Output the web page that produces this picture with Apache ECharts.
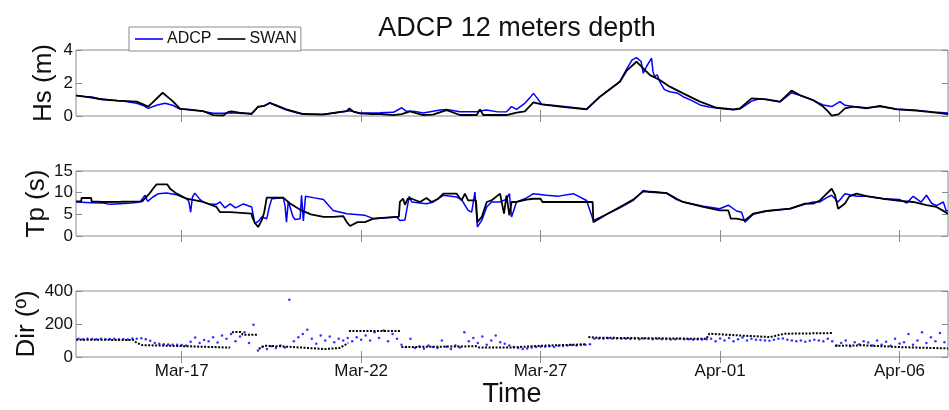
<!DOCTYPE html>
<html><head><meta charset="utf-8">
<script src="https://cdn.jsdelivr.net/npm/echarts@6/dist/echarts.min.js"></script>
<style>html,body{margin:0;padding:0;background:#fff}#c{width:949px;height:410px}</style>
</head><body><div id="c"></div>
<script>
// Time in days since Mar-14 00:00
const tickDays = [3, 8, 13, 18, 23];
const tickLabels = ['Mar-17', 'Mar-22', 'Mar-27', 'Apr-01', 'Apr-06'];

const hsSwan = [[0.06,1.23],[0.4,1.15],[0.8,1.0],[1.2,0.93],[1.75,0.87],[2.07,0.57],[2.47,1.41],[2.75,0.9],[2.95,0.45],[3.3,0.35],[3.6,0.3],[3.88,0.05],[4.16,0.03],[4.3,0.25],[4.39,0.28],[4.6,0.2],[4.95,0.12],[5.13,0.57],[5.3,0.62],[5.46,0.8],[5.92,0.4],[6.39,0.12],[6.94,0.08],[7.32,0.22],[7.6,0.3],[7.67,0.46],[7.8,0.25],[7.97,0.16],[8.3,0.12],[8.53,0.12],[8.9,0.05],[9.13,0.12],[9.36,0.28],[9.73,0.06],[10.0,0.08],[10.38,0.36],[10.75,0.06],[11.22,0.06],[11.31,0.4],[11.4,0.06],[12.05,0.06],[12.33,0.2],[12.56,0.28],[12.8,0.83],[13.03,0.71],[13.54,0.57],[14.28,0.4],[14.65,1.17],[15.21,2.08],[15.4,2.75],[15.67,3.29],[15.86,2.89],[16.05,2.48],[16.32,2.18],[16.6,1.78],[16.97,1.37],[17.44,0.87],[17.9,0.5],[18.37,0.4],[18.55,0.46],[18.88,1.07],[19.29,1.01],[19.67,0.87],[19.99,1.54],[20.22,1.27],[20.59,0.97],[20.87,0.57],[21.0,0.3],[21.11,0.02],[21.3,0.1],[21.48,0.46],[21.71,0.57],[22.08,0.46],[22.45,0.61],[22.92,0.4],[23.47,0.32],[23.94,0.22],[24.35,0.12]];

const hsAdcp = [[0.06,1.25],[0.3,1.18],[0.5,1.15],[0.7,1.05],[0.9,1.0],[1.1,0.95],[1.4,0.9],[1.75,0.77],[1.95,0.62],[2.07,0.46],[2.3,0.65],[2.535,0.77],[2.75,0.65],[2.95,0.42],[3.3,0.38],[3.6,0.28],[3.88,0.16],[4.16,0.16],[4.39,0.2],[4.7,0.15],[4.95,0.16],[5.13,0.55],[5.3,0.6],[5.46,0.78],[5.7,0.55],[5.92,0.36],[6.2,0.2],[6.39,0.1],[6.94,0.1],[7.32,0.2],[7.67,0.32],[7.97,0.18],[8.53,0.2],[8.9,0.22],[9.13,0.5],[9.25,0.3],[9.5,0.28],[9.73,0.18],[10.2,0.36],[10.38,0.4],[10.75,0.26],[11.22,0.26],[11.31,0.3],[11.5,0.36],[11.8,0.25],[12.05,0.26],[12.19,0.57],[12.33,0.4],[12.56,0.77],[12.7,1.1],[12.8,1.37],[12.9,1.1],[13.03,0.71],[13.54,0.6],[14.28,0.42],[14.65,1.15],[15.21,2.1],[15.4,2.85],[15.55,3.4],[15.67,3.54],[15.8,3.3],[15.86,2.6],[15.95,3.0],[16.05,3.35],[16.09,3.5],[16.13,2.7],[16.18,2.38],[16.25,2.5],[16.32,2.08],[16.45,1.6],[16.6,1.47],[16.8,1.4],[16.97,1.17],[17.2,0.95],[17.44,0.67],[17.7,0.55],[17.9,0.48],[18.37,0.38],[18.55,0.42],[18.88,0.9],[19.1,1.05],[19.29,1.0],[19.67,0.85],[19.99,1.41],[20.22,1.25],[20.59,0.95],[20.87,0.67],[21.11,0.57],[21.34,0.87],[21.48,0.65],[21.71,0.57],[22.08,0.5],[22.45,0.58],[22.92,0.42],[23.47,0.35],[23.94,0.25],[24.35,0.18]];

const tpSwan = [[0.06,8.0],[0.2,8.0],[0.21,8.77],[0.48,8.77],[0.49,8.0],[0.8,7.85],[1.3,7.9],[1.9,8.0],[2.1,9.77],[2.2,10.9],[2.3,11.9],[2.6,11.9],[2.68,10.9],[2.86,9.77],[3.14,8.6],[3.6,7.85],[3.97,6.7],[4.07,5.5],[4.35,5.5],[4.36,5.15],[4.95,5.15],[4.96,4.5],[5.04,3.0],[5.13,2.08],[5.23,3.6],[5.3,5.5],[5.37,8.85],[5.83,8.85],[6.02,7.5],[6.34,5.9],[6.6,5.0],[6.95,4.4],[7.22,4.4],[7.5,4.6],[7.6,3.2],[7.69,2.3],[7.9,3.2],[8.11,3.2],[8.34,4.0],[8.6,4.2],[8.99,4.4],[9.05,4.4],[9.08,7.85],[9.17,8.6],[9.22,7.2],[9.3,8.6],[9.41,8.6],[9.64,7.85],[9.82,8.77],[9.96,7.85],[10.15,8.6],[10.29,9.77],[10.66,9.77],[10.8,8.2],[10.89,9.77],[10.98,8.2],[11.2,8.2],[11.24,3.2],[11.36,4.4],[11.5,7.85],[11.63,8.2],[11.87,9.77],[11.98,5.15],[12.05,9.4],[12.13,4.77],[12.19,7.85],[12.33,7.85],[12.61,8.4],[12.8,8.6],[13.0,8.6],[13.05,7.85],[14.45,7.85],[14.47,3.2],[14.84,5.0],[15.21,6.7],[15.58,8.4],[15.86,10.3],[16.18,10.15],[16.51,9.9],[16.79,8.6],[16.97,7.85],[17.53,6.7],[17.99,5.9],[18.23,5.9],[18.3,4.0],[18.46,4.0],[18.69,3.6],[18.92,5.15],[19.29,5.77],[19.95,6.3],[20.36,7.46],[20.59,7.46],[20.78,8.2],[20.97,9.77],[21.11,10.9],[21.2,9.5],[21.29,6.3],[21.48,7.5],[21.6,9.15],[21.8,9.77],[22.08,9.2],[22.54,8.6],[23.01,8.1],[23.38,7.85],[23.75,7.1],[24.03,6.7],[24.22,5.8],[24.35,5.15]];

const tpAdcp = [[0.06,7.85],[0.5,7.7],[0.82,7.6],[1.0,7.3],[1.28,7.46],[1.6,7.6],[1.84,7.85],[1.98,9.4],[2.05,8.0],[2.2,9.0],[2.35,9.77],[2.58,9.9],[2.86,9.5],[3.14,8.6],[3.2,8.0],[3.25,5.5],[3.3,9.0],[3.37,9.9],[3.5,8.5],[3.6,7.85],[3.8,7.3],[3.97,7.3],[4.07,7.85],[4.2,6.5],[4.35,7.4],[4.5,6.5],[4.72,7.4],[4.95,6.7],[5.04,2.85],[5.15,3.5],[5.23,4.4],[5.37,4.0],[5.45,7.0],[5.51,8.6],[5.83,8.85],[5.88,7.0],[5.92,3.2],[5.97,8.0],[6.02,7.8],[6.1,4.5],[6.16,3.8],[6.3,4.0],[6.34,9.4],[6.39,3.5],[6.45,9.15],[6.7,8.8],[6.95,8.4],[7.22,5.9],[7.6,5.15],[8.11,4.77],[8.34,4.0],[8.99,4.4],[9.08,3.6],[9.22,3.7],[9.34,9.15],[9.41,7.85],[9.64,7.6],[9.82,7.46],[10.0,7.8],[10.29,9.4],[10.66,9.0],[10.8,8.4],[10.98,5.9],[11.08,5.5],[11.17,10.15],[11.24,2.1],[11.36,3.6],[11.5,6.7],[11.63,7.85],[11.87,7.85],[12.05,8.5],[12.13,9.77],[12.19,4.4],[12.33,7.85],[12.61,8.8],[12.8,9.77],[13.17,9.4],[13.5,9.2],[13.91,9.77],[14.28,8.2],[14.47,3.6],[14.84,5.0],[15.21,6.5],[15.58,8.2],[15.86,10.5],[16.05,10.1],[16.51,9.9],[16.79,8.4],[16.97,7.85],[17.53,6.85],[17.99,6.3],[18.23,7.1],[18.46,5.77],[18.6,5.5],[18.69,3.2],[18.92,5.0],[19.29,5.77],[19.95,6.3],[20.36,7.3],[20.59,7.85],[20.78,7.85],[20.97,8.85],[21.11,9.4],[21.29,7.85],[21.48,9.77],[21.8,9.15],[22.08,9.15],[22.54,8.6],[23.01,8.4],[23.2,7.6],[23.38,9.15],[23.6,7.8],[23.75,9.4],[23.9,7.5],[24.03,7.0],[24.22,7.85],[24.3,5.8],[24.35,5.8]];

// SWAN direction ('-' marks a gap between steps)
const dirSwan = [[0.06,105],[1.65,103],[1.75,85],[1.9,72],[3.0,66],[4.35,57],[4.37,'-'],[4.4,150],[4.65,152],[4.7,135],[5.1,135],[5.12,'-'],[5.15,50],[5.3,68],[5.75,65],[6.5,55],[7.0,48],[7.4,55],[7.64,85],[7.65,'-'],[7.66,158],[9.08,158],[9.1,'-'],[9.12,60],[11.2,65],[11.3,57],[12.14,57],[13.0,68],[14.28,77],[14.3,'-'],[14.33,121],[14.6,117],[17.62,110],[17.7,141],[18.5,131],[19.39,121],[19.8,141],[21.15,145],[21.17,'-'],[21.2,68],[22.0,71],[23.0,60],[24.35,52]];

// ADCP direction, 3-hourly from Mar-14 03:00
const dirAdcpStart = 0.125;
const dirAdcpStep = 0.125;
const dirAdcp = [
 110,108,111,109,107,110,108,109,
 110,108,109,106,112,111,114,108,
 98,85,80,78,76,75,74,72,
 70,92,118,85,103,96,120,88,
 130,110,140,95,125,150,85,195,
 40,62,48,65,55,70,58,347,
 95,120,140,165,110,80,130,100,
 125,90,110,100,115,95,120,105,
 130,100,150,115,160,95,140,110,
 75,60,110,55,65,50,70,60,
 55,100,62,48,70,58,150,95,
 115,85,125,75,100,130,90,80,
 70,60,55,48,52,58,60,62,
 62,65,60,68,66,70,72,70,
 74,75,78,110,112,110,113,111,
 112,110,111,109,110,108,112,110,
 108,110,107,109,106,108,110,107,
 108,105,107,106,108,110,95,112,
 100,115,95,108,118,100,110,105,
 103,100,98,105,110,112,105,100,
 96,100,92,98,104,100,96,110,
 95,70,85,100,65,90,78,95,
 88,70,100,75,92,68,110,82,
 90,140,75,100,150,85,120,95,
 145,90];

const FONT = "'Liberation Sans', Arial, Helvetica, sans-serif";
const GRAY = '#8a8a8a';
const xMin = 0.056, xMax = 24.35;
const grids = [
  {left: 76, width: 872, top: 50, height: 66},
  {left: 76, width: 872, top: 171, height: 65},
  {left: 76, width: 872, top: 291, height: 66}
];
const yConf = [
  {min: 0, max: 4, interval: 2, name: 'Hs (m)'},
  {min: 0, max: 15, interval: 5, name: 'Tp (s)'},
  {min: 0, max: 400, interval: 200, name: 'Dir (º)'}
];
const yNameGaps = [19, 26, 36];

const xAxes = [], yAxes = [];
grids.forEach((g, i) => {
  const last = i === 2;
  xAxes.push({
    type: 'value', gridIndex: i, position: 'bottom', min: xMin, max: xMax,
    axisLine: {show: false}, splitLine: {show: false},
    axisTick: {show: true, inside: true, length: 6, customValues: tickDays, lineStyle: {color: GRAY}},
    axisLabel: {show: last, customValues: tickDays, margin: 6, color: '#111', fontSize: 17, fontFamily: FONT,
      formatter: v => tickLabels[tickDays.indexOf(v)] || ''},
    name: last ? 'Time' : '', nameLocation: 'middle', nameGap: 24, nameMoveOverlap: false,
    nameTextStyle: {fontSize: 27, color: '#111', fontFamily: FONT}
  });
  xAxes.push({
    type: 'value', gridIndex: i, position: 'top', min: xMin, max: xMax,
    axisLine: {show: false}, splitLine: {show: false},
    axisTick: {show: true, inside: true, length: 6, customValues: tickDays, lineStyle: {color: GRAY}},
    axisLabel: {show: false}
  });
  const yc = yConf[i];
  yAxes.push({
    type: 'value', gridIndex: i, position: 'left', min: yc.min, max: yc.max, interval: yc.interval,
    axisLine: {show: false}, splitLine: {show: false},
    axisTick: {show: true, inside: true, length: 6, lineStyle: {color: GRAY}},
    axisLabel: {margin: 3, color: '#111', fontSize: 17, fontFamily: FONT},
    name: yc.name, nameLocation: 'middle', nameGap: yNameGaps[i], nameRotate: 90, nameMoveOverlap: false,
    nameTextStyle: {fontSize: 26, color: '#111', fontFamily: FONT}
  });
  yAxes.push({
    type: 'value', gridIndex: i, position: 'right', min: yc.min, max: yc.max, interval: yc.interval,
    axisLine: {show: false}, splitLine: {show: false},
    axisTick: {show: true, inside: true, length: 6, lineStyle: {color: GRAY}},
    axisLabel: {show: false}
  });
});

const dirAdcpData = dirAdcp.map((v, k) => [dirAdcpStart + k * dirAdcpStep, v]);

const lineBase = {type: 'line', symbol: 'none', showSymbol: false, animation: false, clip: true};
const series = [
  Object.assign({}, lineBase, {name: 'ADCP', xAxisIndex: 0, yAxisIndex: 0, data: hsAdcp, lineStyle: {color: '#0000ff', width: 1.5}, itemStyle: {color: '#0000ff'}}),
  Object.assign({}, lineBase, {name: 'SWAN', xAxisIndex: 0, yAxisIndex: 0, data: hsSwan, lineStyle: {color: '#000', width: 1.8}, itemStyle: {color: '#000'}}),
  Object.assign({}, lineBase, {name: 'ADCP', xAxisIndex: 2, yAxisIndex: 2, data: tpAdcp, lineStyle: {color: '#0000ff', width: 1.5}, itemStyle: {color: '#0000ff'}}),
  Object.assign({}, lineBase, {name: 'SWAN', xAxisIndex: 2, yAxisIndex: 2, data: tpSwan, lineStyle: {color: '#000', width: 1.8}, itemStyle: {color: '#000'}}),
  {type: 'scatter', name: 'ADCP', xAxisIndex: 4, yAxisIndex: 4, data: dirAdcpData, symbolSize: 2.5, itemStyle: {color: '#0000ff'}, animation: false, clip: true},
  Object.assign({}, lineBase, {name: 'SWAN', xAxisIndex: 4, yAxisIndex: 4, data: dirSwan, connectNulls: false, lineStyle: {color: '#000', width: 2, type: [2, 1.5]}, itemStyle: {color: '#000'}})
];

const chart = echarts.init(document.getElementById('c'), null, {renderer: 'canvas'});
chart.setOption({
  backgroundColor: '#fff',
  animation: false,
  title: {text: 'ADCP 12 meters depth', left: 512, textAlign: 'center', top: 10,
    textStyle: {fontSize: 27, fontWeight: 'normal', color: '#111', fontFamily: FONT}},
  legend: {
    data: [{name: 'ADCP', icon: 'rect'}, {name: 'SWAN', icon: 'rect'}], left: 129, top: 27,
    orient: 'horizontal', backgroundColor: '#fff', borderColor: GRAY, borderWidth: 1,
    padding: [4, 4, 4, 6], itemWidth: 28, itemHeight: 1.6, itemGap: 6,
    textStyle: {fontSize: 16, color: '#111', fontFamily: FONT, padding: [0, 0, 0, -1]}
  },
  grid: grids.map(g => Object.assign({show: true, borderColor: GRAY, borderWidth: 1, backgroundColor: 'transparent'}, g)),
  xAxis: xAxes,
  yAxis: yAxes,
  series: series
});
</script></body></html>
